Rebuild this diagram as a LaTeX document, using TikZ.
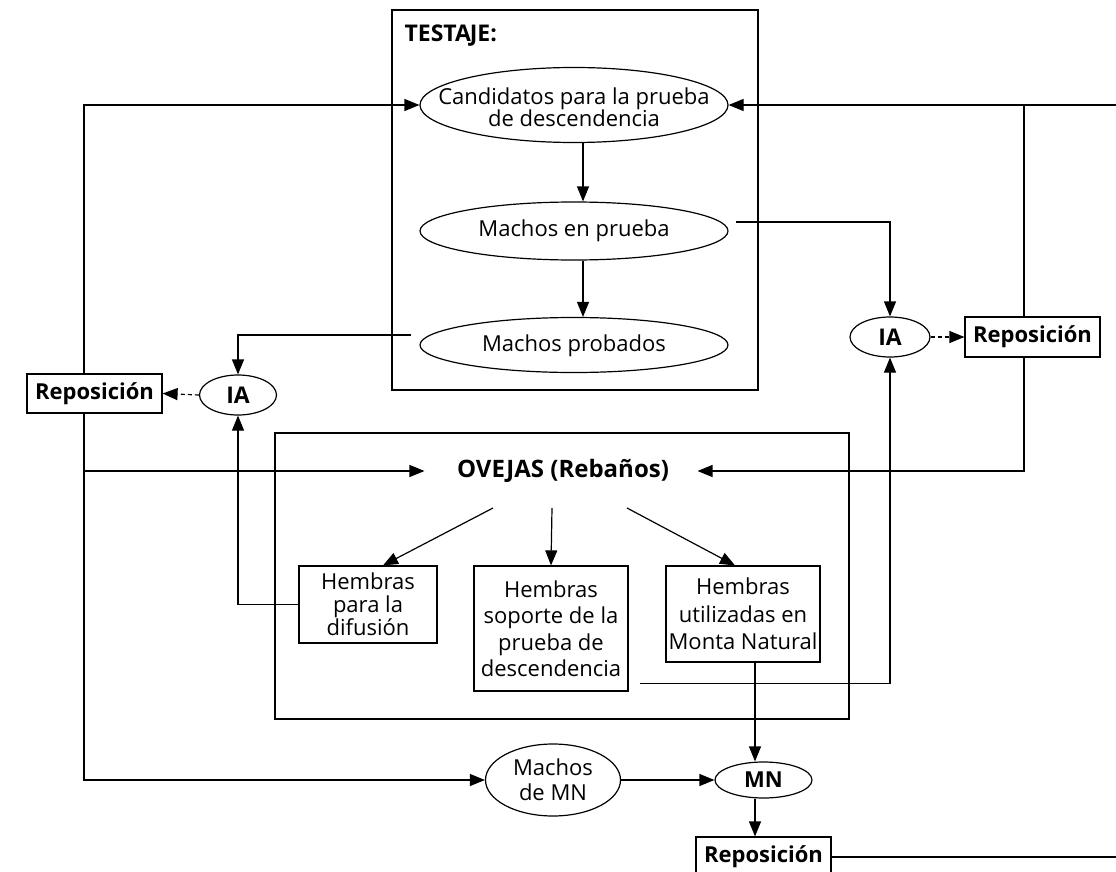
\documentclass[tikz,border=0pt]{standalone}
\usepackage{fontspec}
\setmainfont{Open Sans}
\usetikzlibrary{arrows.meta,shapes.geometric,calc}
\begin{document}
\begin{tikzpicture}[x=1pt,y=-1pt,
  line width=1.2pt,
  fnt/.style={font=\fontsize{22}{22}\selectfont},
  bfnt/.style={font=\fontsize{22}{22}\selectfont\bfseries},
  ell/.style={draw, ellipse, inner sep=0pt},
  txt/.style={fnt, align=center, inner sep=0pt},
  rbox/.style={draw, rectangle, inner sep=0pt, align=center},
  arr/.style={-{Triangle[length=15pt,width=12pt]}},
  dsh/.style={dash pattern=on 4pt off 3pt}
]
\useasboundingbox (0,0) rectangle (1116,872);

% frames
\node[rbox, minimum width=366pt, minimum height=380pt] (testbox) at (575,200) {};
\node[bfnt, font=\fontsize{23}{23}\selectfont\bfseries, anchor=west, inner sep=0pt] (testlbl) at (404,36) {TESTA\kern-1.2pt JE:};
\node[rbox, minimum width=574pt, minimum height=286pt] (ovbox) at (562,576) {};

% TESTAJE ellipses
\node[ell, minimum width=308pt, minimum height=75pt] (cand) at (574,105) {};
\node[txt] (candt) at (574,107) {Candidatos para la prueba\\[0pt]de descendencia};
\node[ell, minimum width=308pt, minimum height=58pt] (mep) at (574,231) {};
\node[txt] (mept) at (574,231) {Machos en prueba};
\node[ell, minimum width=308pt, minimum height=55pt] (mpr) at (574,345) {};
\node[txt] (mprt) at (574,346) {Machos probados};

% IA and Reposicion
\node[ell, bfnt, font=\fontsize{23}{23}\selectfont\bfseries, minimum width=77pt, minimum height=40pt] (iaL) at (238,395) {IA};
\node[rbox, bfnt, minimum width=135pt, minimum height=39pt] (repL) at (94.5,393.5) {Reposición};
\node[ell, bfnt, font=\fontsize{23}{23}\selectfont\bfseries, minimum width=80pt, minimum height=40pt] (iaR) at (890,337) {IA};
\node[rbox, bfnt, minimum width=135pt, minimum height=40pt] (repR) at (1032.5,337) {Reposición};

% OVEJAS
\node[bfnt, font=\fontsize{24}{24}\selectfont\bfseries, inner sep=0pt] (ovt) at (563,471) {OVEJAS (Rebaños)};
\node[rbox, fnt, minimum width=138pt, minimum height=77pt] (hdif) at (368,604.5) {Hembras\\[0.5pt]para la\\[0.5pt]difusión};
\node[rbox, fnt, minimum width=154pt, minimum height=125pt] (hsop) at (551,628.5) {Hembras\\[4.5pt]soporte de la\\[4.5pt]prueba de\\[4.5pt]descendencia};
\node[rbox, fnt, minimum width=154pt, minimum height=96pt] (hutil) at (743,614) {Hembras\\[5.5pt]utilizadas en\\[5.5pt]Monta Natural};

% bottom
\node[ell, fnt, align=center, minimum width=135pt, minimum height=72pt, inner sep=0pt] (mdmn) at (553,780) {Machos\\[3pt]de MN};
\node[ell, bfnt, minimum width=97pt, minimum height=36pt] (mn) at (763.5,780) {MN};
\node[rbox, bfnt, minimum width=135pt, minimum height=40pt] (repB) at (763.5,857) {Reposición};

% helper coordinates
\coordinate (lv) at (84,0);
\coordinate (rv) at (1024,0);
\coordinate (ax) at (583,0);
\coordinate (mnx) at (755,0);
\coordinate (edge) at (1116,0);

% TESTAJE chain
\draw[arr] (cand.south -| ax) -- (mep.north -| ax);
\draw[arr] (mep.south -| ax) -- (mpr.north -| ax);

% left Reposicion feeds
\draw[arr] (repL.north -| lv) |- (cand.west);
\draw[arr, shorten >=32pt] (repL.south -| lv) |- (ovt.west);
\draw[arr] (repL.south -| lv) |- (mdmn.west);

% right Reposicion feeds
\draw[arr] (repR.north -| rv) |- (cand.east);
\draw[arr, shorten >=28pt] (repR.south -| rv) |- (ovt.east);
\draw (cand.east -| edge) -- (cand.east -| rv);

% IA -> Reposicion
\draw[arr, dsh] (iaL.west) -- (repL.east);
\draw[arr, dsh] (iaR.east) -- (repR.west);

% into IA
\draw[arr] ($(mpr.west)+(-8,-10)$) -| (iaL.north);
\draw[arr] (hdif.west) -| (iaL.south);
\draw[arr] ($(mep.east)+(7,-9)$) -| (iaR.north);
\draw[arr] ($(hsop.south east)+(11,-8)$) -| (iaR.south);

% OVEJAS to groups
\draw[arr] ($(ovt.center)+(-70,37)$) -- ($(hdif.north)+(15,0)$);
\draw[arr] ($(ovt.center)+(-11,37)$) -- (hsop.north);
\draw[arr] ($(ovt.center)+(64,37)$) -- ($(hutil.north)+(-8,0)$);

% MN
\draw[arr] (hutil.south -| mnx) -- (mn.north -| mnx);
\draw[arr] (mdmn.east) -- (mn.west);
\draw[arr] (mn.south -| mnx) -- (repB.north -| mnx);
\draw (repB.east) -- (repB.east -| edge);
\end{tikzpicture}
\end{document}
